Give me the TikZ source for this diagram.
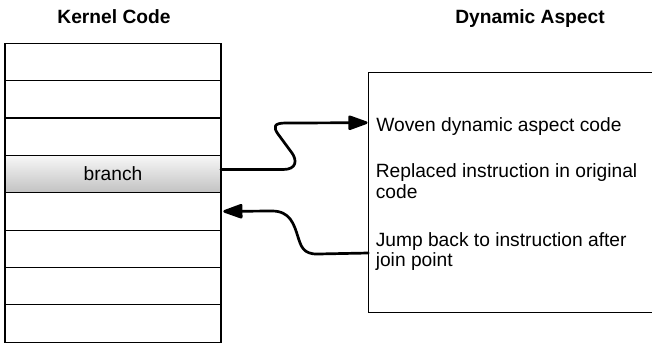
\documentclass[tikz,border=0pt]{standalone}
\usepackage{fontspec}
\setmainfont{Liberation Sans}
\usetikzlibrary{arrows.meta,calc}
\begin{document}
\begin{tikzpicture}[x=1pt,y=-1pt,
  cell/.style={draw=black, line width=1.1pt, minimum width=216pt, minimum height=37.35pt,
    inner sep=0pt, outer sep=0pt, anchor=north west, font=\fontsize{19.2}{21}\selectfont},
  title/.style={font=\fontsize{19.2}{21}\selectfont\bfseries, anchor=base, inner sep=0pt},
  label/.style={font=\fontsize{19.2}{21}\selectfont, anchor=base west, inner sep=0pt},
  link/.style={line width=2.7pt, line cap=round, line join=round,
    -{Triangle[length=22pt,width=15pt,round=false]}},
]
\useasboundingbox (0,0) rectangle (652,343);
\clip (0,0) rectangle (652,343);

% column titles
\node[title] (kerneltitle) at (114,23.3) {Kernel Code};
\node[title] (aspecttitle) at (530,23.3) {Dynamic Aspect};

% kernel code stack
\foreach \i in {0,1,2,4,5,6,7}
  \node[cell] (row\i) at (5,{43.3+\i*37.35}) {};
\node[cell, top color=black!3, bottom color=black!24] (branch) at (5,{43.3+3*37.35}) {branch};

% dynamic aspect box (runs past the right edge)
\node[draw=black, line width=1.1pt, minimum width=320pt, minimum height=239.6pt,
  inner sep=0pt, outer sep=0pt, anchor=north west] (aspect) at (368.3,72.7) {};

% texts inside the aspect box
\node[label] (woven) at (376.2,131.7) {Woven dynamic aspect code};
\node[label] (replaced) at (375.6,177.3) {Replaced instruction in original};
\node[label] (replaced2) at (375.6,198.3) {code};
\node[label] (jump) at (375.6,246.7) {Jump back to instruction after};
\node[label] (jump2) at (375.6,266.7) {join point};

% connector end points
\coordinate (s1) at ([yshift=4.5pt]branch.east);
\coordinate (t1) at ($(aspect.north west)+(-0.8,50)$);
\coordinate (s2) at ($(aspect.north west)+(0,180.3)$);
\coordinate (t2) at ([xshift=2.3pt]row4.east);

% jump into the woven code
\draw[link] (s1) -- ++(62,0)
  .. controls +(14,0) and +(5,7) .. ++(9,-16.5)
  -- ++(-14,-19)
  .. controls +(-5,-7) and +(-11,0) .. ++(7,-11)
  -- (t1);

% jump back after the join point
\draw[link] (s2) -- ++(-50.3,1)
  .. controls +(-15,0.5) and +(3,9) .. ++(-20,-17)
  .. controls +(-4,-13) and +(18,0) .. ++(-26,-26)
  -- (t2);
\end{tikzpicture}
\end{document}
